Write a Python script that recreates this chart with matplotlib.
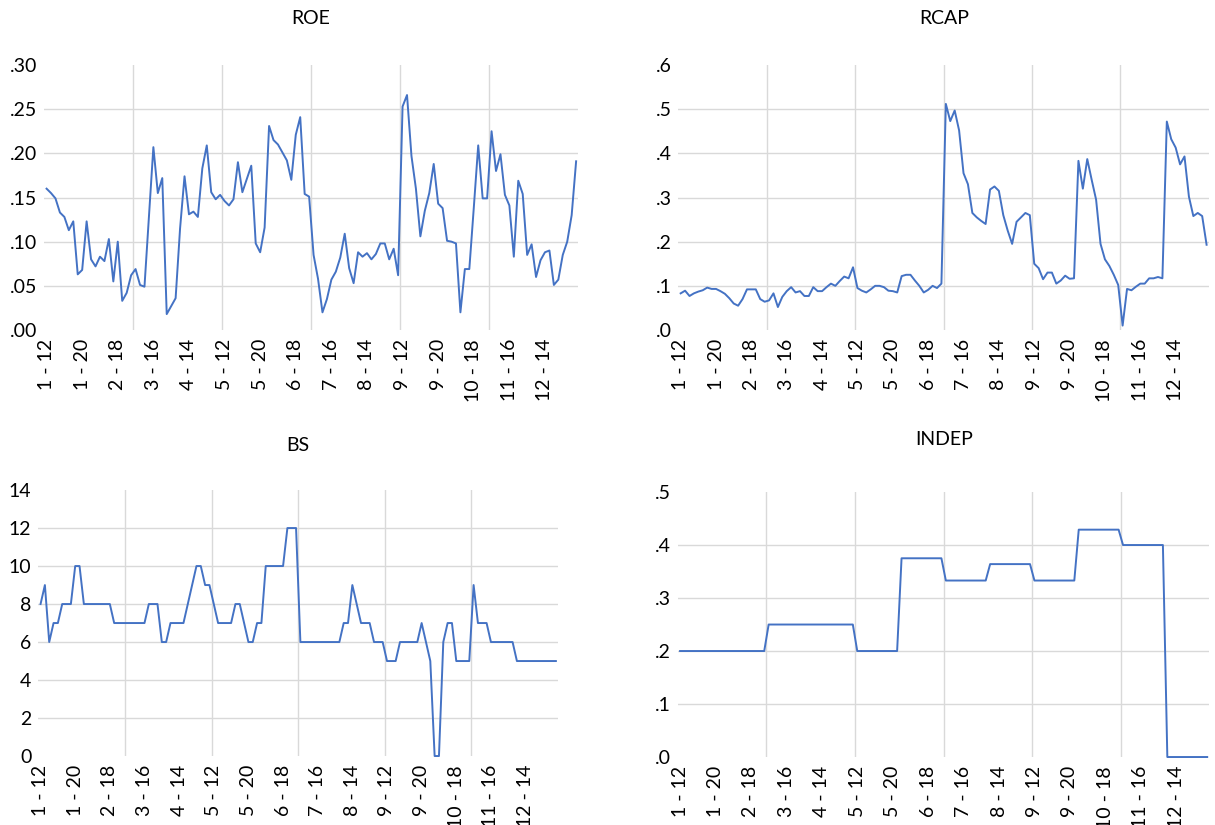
import matplotlib
matplotlib.use("Agg")
import matplotlib.pyplot as plt

plt.rcParams['font.family'] = ['Lato', 'DejaVu Sans']

# panel data: 12 firms x 10 years (2012-2021)
firms = list(range(1, 13))
years = list(range(12, 22))
obs_labels = ["%d - %d" % (f, y) for f in firms for y in years]

roe = [0.160, 0.155, 0.149, 0.133, 0.128, 0.113, 0.123, 0.063, 0.068, 0.123,
       0.080, 0.072, 0.083, 0.078, 0.103, 0.055, 0.100, 0.033, 0.042, 0.062,
       0.069, 0.051, 0.049, 0.128, 0.207, 0.155, 0.172, 0.018, 0.027, 0.036,
       0.115, 0.174, 0.131, 0.134, 0.128, 0.183, 0.209, 0.156, 0.148, 0.153,
       0.146, 0.141, 0.148, 0.190, 0.156, 0.171, 0.186, 0.098, 0.088, 0.116,
       0.231, 0.215, 0.210, 0.201, 0.192, 0.170, 0.221, 0.241, 0.154, 0.151,
       0.085, 0.058, 0.020, 0.035, 0.057, 0.066, 0.082, 0.109, 0.070, 0.053,
       0.088, 0.083, 0.087, 0.080, 0.086, 0.098, 0.098, 0.080, 0.092, 0.062,
       0.253, 0.266, 0.197, 0.160, 0.106, 0.135, 0.155, 0.188, 0.143, 0.138,
       0.101, 0.100, 0.098, 0.020, 0.069, 0.069, 0.138, 0.209, 0.149, 0.149,
       0.225, 0.180, 0.199, 0.153, 0.141, 0.083, 0.169, 0.154, 0.085, 0.097,
       0.060, 0.079, 0.088, 0.090, 0.051, 0.057, 0.085, 0.100, 0.130, 0.191]

rcap = [0.083, 0.089, 0.077, 0.083, 0.087, 0.090, 0.096, 0.093, 0.093, 0.088,
        0.082, 0.072, 0.060, 0.055, 0.070, 0.092, 0.092, 0.092, 0.070, 0.064,
        0.067, 0.083, 0.052, 0.075, 0.088, 0.097, 0.085, 0.088, 0.077, 0.077,
        0.097, 0.088, 0.088, 0.097, 0.105, 0.100, 0.111, 0.121, 0.117, 0.142,
        0.095, 0.089, 0.085, 0.092, 0.100, 0.100, 0.097, 0.089, 0.088, 0.085,
        0.122, 0.125, 0.125, 0.112, 0.100, 0.085, 0.091, 0.100, 0.095, 0.105,
        0.512, 0.473, 0.497, 0.452, 0.355, 0.330, 0.265, 0.255, 0.247, 0.240,
        0.318, 0.325, 0.315, 0.260, 0.225, 0.195, 0.245, 0.255, 0.265, 0.260,
        0.150, 0.140, 0.115, 0.130, 0.130, 0.105, 0.112, 0.123, 0.116, 0.117,
        0.383, 0.320, 0.387, 0.340, 0.295, 0.195, 0.160, 0.145, 0.125, 0.102,
        0.010, 0.093, 0.090, 0.098, 0.105, 0.105, 0.117, 0.117, 0.120, 0.117,
        0.472, 0.432, 0.413, 0.375, 0.393, 0.302, 0.258, 0.265, 0.258, 0.193]

bs = [8, 9, 6, 7, 7, 8, 8, 8, 10, 10,
      8, 8, 8, 8, 8, 8, 8, 7, 7, 7,
      7, 7, 7, 7, 7, 8, 8, 8, 6, 6,
      7, 7, 7, 7, 8, 9, 10, 10, 9, 9,
      8, 7, 7, 7, 7, 8, 8, 7, 6, 6,
      7, 7, 10, 10, 10, 10, 10, 12, 12, 12,
      6, 6, 6, 6, 6, 6, 6, 6, 6, 6,
      7, 7, 9, 8, 7, 7, 7, 6, 6, 6,
      5, 5, 5, 6, 6, 6, 6, 6, 7, 6,
      5, 0, 0, 6, 7, 7, 5, 5, 5, 5,
      9, 7, 7, 7, 6, 6, 6, 6, 6, 6,
      5, 5, 5, 5, 5, 5, 5, 5, 5, 5]

indep = [0.200, 0.200, 0.200, 0.200, 0.200, 0.200, 0.200, 0.200, 0.200, 0.200,
         0.200, 0.200, 0.200, 0.200, 0.200, 0.200, 0.200, 0.200, 0.200, 0.200,
         0.250, 0.250, 0.250, 0.250, 0.250, 0.250, 0.250, 0.250, 0.250, 0.250,
         0.250, 0.250, 0.250, 0.250, 0.250, 0.250, 0.250, 0.250, 0.250, 0.250,
         0.200, 0.200, 0.200, 0.200, 0.200, 0.200, 0.200, 0.200, 0.200, 0.200,
         0.375, 0.375, 0.375, 0.375, 0.375, 0.375, 0.375, 0.375, 0.375, 0.375,
         0.333, 0.333, 0.333, 0.333, 0.333, 0.333, 0.333, 0.333, 0.333, 0.333,
         0.364, 0.364, 0.364, 0.364, 0.364, 0.364, 0.364, 0.364, 0.364, 0.364,
         0.333, 0.333, 0.333, 0.333, 0.333, 0.333, 0.333, 0.333, 0.333, 0.333,
         0.429, 0.429, 0.429, 0.429, 0.429, 0.429, 0.429, 0.429, 0.429, 0.429,
         0.400, 0.400, 0.400, 0.400, 0.400, 0.400, 0.400, 0.400, 0.400, 0.400,
         0.000, 0.000, 0.000, 0.000, 0.000, 0.000, 0.000, 0.000, 0.000, 0.000]

roe_ticks = [0.00, 0.05, 0.10, 0.15, 0.20, 0.25, 0.30]
roe_ticklabels = [".00", ".05", ".10", ".15", ".20", ".25", ".30"]
rcap_ticks = [0.0, 0.1, 0.2, 0.3, 0.4, 0.5, 0.6]
rcap_ticklabels = [".0", ".1", ".2", ".3", ".4", ".5", ".6"]
bs_ticks = [0, 2, 4, 6, 8, 10, 12, 14]
bs_ticklabels = ["0", "2", "4", "6", "8", "10", "12", "14"]
indep_ticks = [0.0, 0.1, 0.2, 0.3, 0.4, 0.5]
indep_ticklabels = [".0", ".1", ".2", ".3", ".4", ".5"]

LINE_COLOR = "#4472C4"
GRID_COLOR = "#D9D9D9"
FS = 14


def draw_panel(fig, rect, values, yticks, yticklabels, title, title_xy):
    ax = fig.add_axes(rect)
    n = len(values)
    x = list(range(n))
    ax.plot(x, values, color=LINE_COLOR, lw=1.4, clip_on=False, zorder=3)
    ax.set_xlim(-0.5, n - 0.5)
    ax.set_ylim(yticks[0], yticks[-1])
    ax.set_yticks(yticks)
    ax.set_yticklabels(yticklabels, fontsize=FS)
    ax.set_xticks(x[::8])
    ax.set_xticklabels(obs_labels[::8], rotation=90, fontsize=FS)
    # gridlines: between every second firm, and interior value levels
    for b in x[20::20]:
        ax.axvline(b - 0.5, color=GRID_COLOR, lw=1.0, zorder=1)
    for t in yticks[1:-1]:
        ax.axhline(t, color=GRID_COLOR, lw=1.0, zorder=1)
    ax.tick_params(axis='both', length=0)
    ax.tick_params(axis='x', pad=6.5)
    ax.tick_params(axis='y', pad=5)
    for s in ax.spines.values():
        s.set_visible(False)
    fig.text(title_xy[0], title_xy[1], title, ha='center', va='center', fontsize=FS)
    return ax


fig = plt.figure(figsize=(12.15, 8.25), dpi=100)
draw_panel(fig, [0.0365, 0.600, 0.4395, 0.3212], roe, roe_ticks, roe_ticklabels,
           "ROE", (0.256, 0.978))
draw_panel(fig, [0.5584, 0.600, 0.4365, 0.3212], rcap, rcap_ticks, rcap_ticklabels,
           "RCAP", (0.777, 0.978))
draw_panel(fig, [0.0316, 0.0836, 0.4277, 0.3224], bs, bs_ticks, bs_ticklabels,
           "BS", (0.2453, 0.4606))
draw_panel(fig, [0.5579, 0.0824, 0.4375, 0.3212], indep, indep_ticks, indep_ticklabels,
           "INDEP", (0.777, 0.4667))

plt.savefig("out.png", dpi=100)
plt.close(fig)
